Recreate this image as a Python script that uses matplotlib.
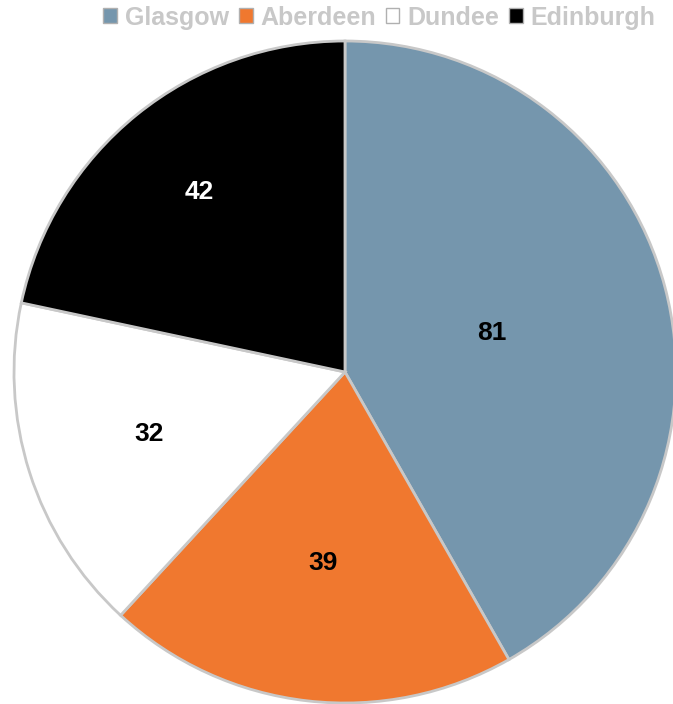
import matplotlib.pyplot as plt
from matplotlib.patches import Patch
import numpy as np

plt.rcParams['font.family'] = ['Liberation Sans', 'DejaVu Sans']

cities = ['Glasgow', 'Aberdeen', 'Dundee', 'Edinburgh']
counts = [81, 39, 32, 42]
colors = ['#7596ad', '#f0782f', '#ffffff', '#000000']
text_colors = ['black', 'black', 'black', 'white']

# how far out each number sits inside its slice (fraction of radius)
label_r = [0.46, 0.58, 0.62, 0.70]

W, H = 673, 704
cx, cy, R = 345, 372, 331

fig = plt.figure(figsize=(W / 100, H / 100), dpi=100)
ax = fig.add_axes([0, 0, 1, 1])

wedges, _ = ax.pie(counts, colors=colors, startangle=90, counterclock=False,
                   radius=1, wedgeprops={'edgecolor': '#c8c8c8', 'linewidth': 2})

total = float(sum(counts))
start = 90.0
for n, r, tc in zip(counts, label_r, text_colors):
	mid = np.deg2rad(start - n / total * 180.0)
	start -= n / total * 360.0
	ax.text(r * np.cos(mid), r * np.sin(mid), str(n), ha='center', va='center',
			fontsize=19, fontweight='bold', color=tc)

ax.set_xlim(-cx / R, (W - cx) / R)
ax.set_ylim(-(H - cy) / R, cy / R)
ax.set_aspect('auto')
ax.axis('off')

handles = [Patch(facecolor=c, edgecolor='#b0b0b0', linewidth=1) for c in colors]
leg = fig.legend(handles, cities, loc='upper right', bbox_to_anchor=(0.988, 1.006),
				 ncol=4, frameon=False, handlelength=0.55, handleheight=0.55,
				 handletextpad=0.3, columnspacing=0.4, borderaxespad=0,
				 prop={'weight': 'bold', 'size': 18})
for t in leg.get_texts():
	t.set_color('#c8c8c8')

fig.savefig('out.png', dpi=100)
